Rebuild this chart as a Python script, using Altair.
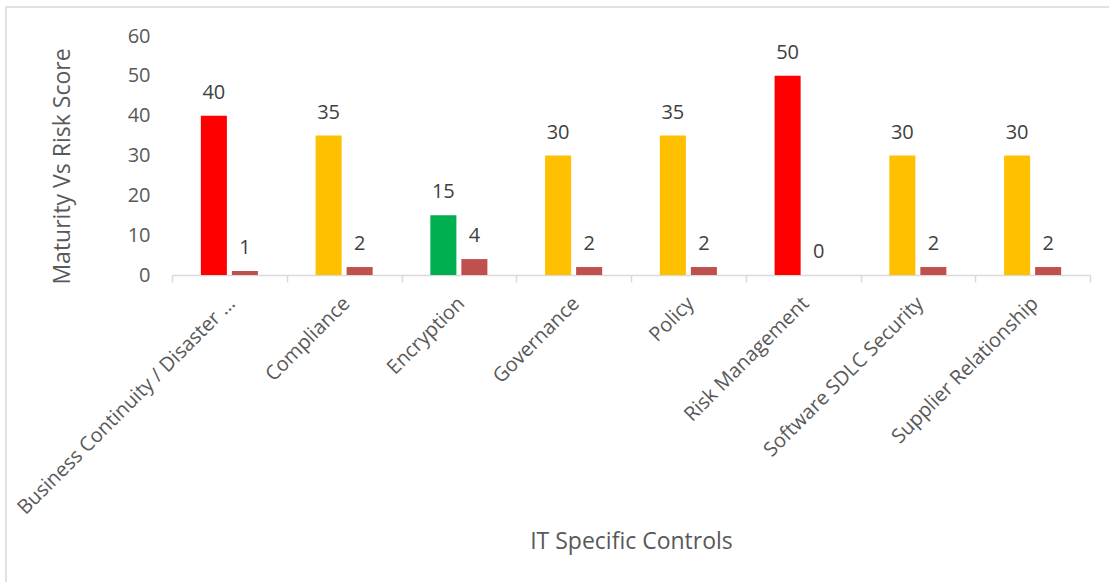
import altair as alt
import pandas as pd

categories = [
    "Business Continuity / Disaster …",
    "Compliance",
    "Encryption",
    "Governance",
    "Policy",
    "Risk Management",
    "Software SDLC Security",
    "Supplier Relationship",
]
maturity = [40, 35, 15, 30, 35, 50, 30, 30]
risk = [1, 2, 4, 2, 2, 0, 2, 2]
y_ticks = [0, 10, 20, 30, 40, 50, 60]

rows = []
for c, m, r in zip(categories, maturity, risk):
    rows.append({"category": c, "series": "Maturity", "value": m})
    rows.append({"category": c, "series": "Risk", "value": r})
df = pd.DataFrame(rows)

FONT = "Open Sans"

base = alt.Chart(df).transform_calculate(
    colour="datum.series == 'Risk' ? '#C0504D' : (datum.value >= 40 ? '#FF0000' : (datum.value >= 20 ? '#FFC000' : '#00B050'))"
)

x_enc = alt.X(
    "category:N",
    sort=categories,
    scale=alt.Scale(paddingInner=0, paddingOuter=0),
    axis=alt.Axis(
        title="IT Specific Controls",
        labelAngle=-45,
        labelAlign="right",
        labelBaseline="top",
        labelPadding=11,
        labelOffset=-5,
        labelFont=FONT,
        labelFontSize=20,
        labelColor="#595959",
        labelLimit=500,
        labelOverlap=False,
        tickBand="extent",
        tickSize=7,
        tickColor="#d9d9d9",
        tickWidth=1.5,
        domainColor="#d9d9d9",
        domainWidth=1.5,
        titleFont=FONT,
        titleFontSize=23,
        titleFontWeight="normal",
        titleColor="#595959",
        titleX=459,
        titleY=266,
        titleBaseline="middle",
        titleAlign="center",
    ),
)
xo_enc = alt.XOffset(
    "series:N",
    sort=["Maturity", "Risk"],
    scale=alt.Scale(paddingInner=0.16, paddingOuter=0.93),
)
y_enc = alt.Y(
    "value:Q",
    scale=alt.Scale(domain=[0, 60], nice=False, zero=True),
    axis=alt.Axis(
        title="Maturity Vs Risk Score",
        values=y_ticks,
        tickCount=7,
        domain=False,
        ticks=False,
        grid=False,
        labelOverlap=False,
        labelPadding=22,
        labelFont=FONT,
        labelFontSize=20,
        labelColor="#595959",
        titleFont=FONT,
        titleFontSize=23,
        titleFontWeight="normal",
        titleColor="#595959",
        titleX=-110,
        titleY=130,
        titleAngle=-90,
        titleBaseline="middle",
        titleAlign="center",
    ),
)

bars = base.mark_bar().encode(
    x=x_enc, xOffset=xo_enc, y=y_enc,
    color=alt.Color("colour:N", scale=None),
)
labels = base.mark_text(
    font=FONT, fontSize=20, color="#404040", baseline="alphabetic", dy=-17
).encode(
    x=x_enc,
    xOffset=xo_enc,
    y=y_enc,
    text="value:Q",
)
frame = alt.Chart(alt.Data(values=[{}])).mark_rect(
    fill=None, stroke="#d9d9d9", strokeWidth=1.5
).encode(
    x=alt.value(-166), x2=alt.value(950),
    y=alt.value(-29), y2=alt.value(570),
)

chart = alt.layer(frame, bars, labels).properties(
    width=918, height=239,
    autosize=alt.AutoSizeParams(type="none"),
    padding={"left": 172, "top": 36, "right": 19, "bottom": 307},
    background="white",
).configure_view(stroke=None)

chart.save("out.html", embed_options={"renderer": "svg", "actions": False})
